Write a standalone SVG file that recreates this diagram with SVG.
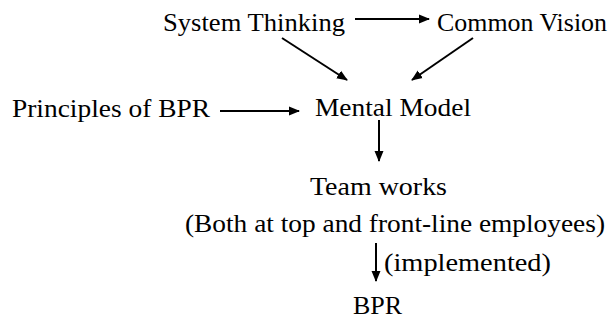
<svg xmlns="http://www.w3.org/2000/svg" width="613" height="320" viewBox="0 0 613 320">
<style>
text{font-family:"Liberation Serif","Times New Roman",serif;font-size:26px;fill:#000}
.c{stroke:#000;stroke-width:2;fill:none}
</style>
<defs>
<marker id="ah" markerWidth="12" markerHeight="12" refX="10" refY="6" orient="auto" markerUnits="userSpaceOnUse">
<path d="M0,1.5 L11,6 L0,10.5 Z" fill="#000"/>
</marker>
</defs>
<rect width="613" height="320" fill="#fff"/>
<g id="n-system"><text x="163" y="31" textLength="182" lengthAdjust="spacingAndGlyphs">System Thinking</text></g>
<g id="n-vision"><text x="437" y="31" textLength="170" lengthAdjust="spacingAndGlyphs">Common Vision</text></g>
<g id="n-principles"><text x="12" y="117" textLength="198" lengthAdjust="spacingAndGlyphs">Principles of BPR</text></g>
<g id="n-mental"><text x="315" y="116" textLength="156" lengthAdjust="spacingAndGlyphs">Mental Model</text></g>
<g id="n-team"><text x="310" y="195" textLength="137" lengthAdjust="spacingAndGlyphs">Team works</text><text x="185" y="232" textLength="420" lengthAdjust="spacingAndGlyphs">(Both at top and front-line employees)</text></g>
<g id="n-bpr"><text x="353" y="314">BPR</text></g>
<g id="l-impl"><text x="384" y="271" textLength="167" lengthAdjust="spacingAndGlyphs">(implemented)</text></g>
<g id="connectors">
<line class="c" x1="355" y1="19" x2="429" y2="19" marker-end="url(#ah)"/>
<line class="c" x1="282" y1="38" x2="347" y2="80" marker-end="url(#ah)"/>
<line class="c" x1="473" y1="38" x2="412" y2="80" marker-end="url(#ah)"/>
<line class="c" x1="220" y1="111" x2="299" y2="111" marker-end="url(#ah)"/>
<line class="c" x1="379" y1="120" x2="379" y2="161" marker-end="url(#ah)"/>
<line class="c" x1="376" y1="243" x2="376" y2="281" marker-end="url(#ah)"/>
</g>
</svg>
